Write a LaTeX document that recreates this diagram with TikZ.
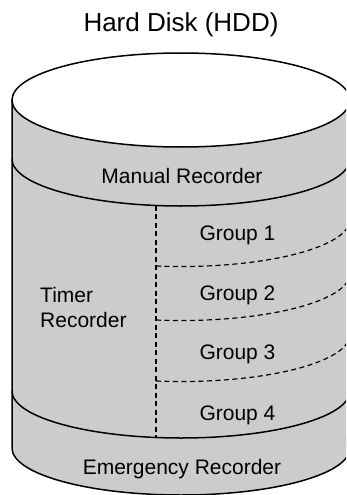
\documentclass[tikz,border=0pt]{standalone}
\usepackage{fontspec}
\setmainfont{Liberation Sans}
\definecolor{diskgray}{HTML}{CCCCCC}
\begin{document}
\begin{tikzpicture}[x=1pt,y=-1pt,
  outline/.style={draw=black,line width=1.5pt},
  divider/.style={draw=black,line width=1.2pt,dash pattern=on 5pt off 3.5pt},
  lbl/.style={font=\fontsize{21}{25}\selectfont,anchor=base,inner sep=0pt},
  ttl/.style={font=\fontsize{26}{30}\selectfont,anchor=base,inner sep=0pt}]
\useasboundingbox (0,0) rectangle (346,495);
\clip (0,0) rectangle (346,495);
% body
\fill[diskgray] (12,100) rectangle (350,448);
\fill[diskgray] (181,448) ellipse[x radius=169,y radius=47];
\fill[white] (181,100) ellipse[x radius=169,y radius=47];
% outlines
\draw[outline] (181,100) ellipse[x radius=169,y radius=47];
\draw[outline] (12,100) -- (12,448) arc[start angle=180,end angle=0,x radius=169,y radius=47] -- (350,100);
\draw[outline] (12,159) arc[start angle=180,end angle=0,x radius=169,y radius=47];
\draw[outline] (12,391) arc[start angle=180,end angle=0,x radius=169,y radius=47];
% dividers
\coordinate (vtop) at (156,205.5);
\coordinate (vbot) at (156,437.5);
\draw[divider] (vtop) -- (vbot);
\coordinate (d1) at (156,266);
\coordinate (d2) at (156,320);
\coordinate (d3) at (156,381);
\draw[divider] (d1) arc[start angle=98.5,end angle=0,x radius=169,y radius=47];
\draw[divider] (d2) arc[start angle=98.5,end angle=0,x radius=169,y radius=47];
\draw[divider] (d3) arc[start angle=98.5,end angle=0,x radius=169,y radius=47];
% texts
\node[ttl] (title) at (181,31.5) {Hard Disk (HDD)};
\node[lbl] (manual) at (182,183) {Manual Recorder};
\node[lbl] (g1) at (237.5,240.5) {Group 1};
\node[lbl] (g2) at (237.5,300.5) {Group 2};
\node[lbl] (g3) at (237.5,359.5) {Group 3};
\node[lbl] (g4) at (237.5,420.5) {Group 4};
\node[lbl,anchor=base west] (timer) at (40,302) {Timer};
\node[lbl,anchor=base west] (timer2) at (40,327) {Recorder};
\node[lbl] (emerg) at (182,474) {Emergency Recorder};
\end{tikzpicture}
\end{document}
